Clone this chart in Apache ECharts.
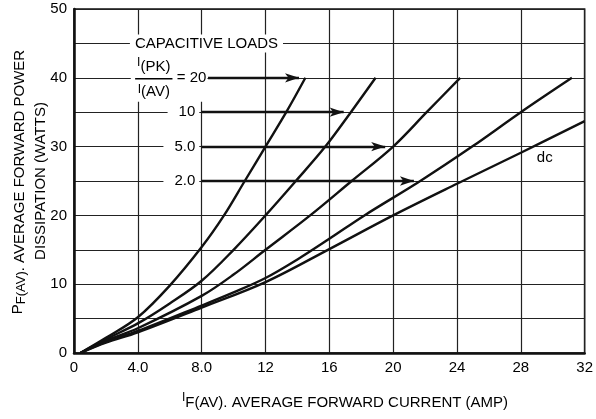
<!DOCTYPE html>
<html><head><meta charset="utf-8">
<script src="https://cdn.jsdelivr.net/npm/echarts@6/dist/echarts.min.js"></script>
<style>html,body{margin:0;padding:0;background:#fff}#c{width:596px;height:419px}</style>
</head><body><div id="c"></div>
<script>
// ---- data ----
const xTicks = [0, 4, 8, 12, 16, 20, 24, 28, 32];
const xTickLabels = ['0', '4.0', '8.0', '12', '16', '20', '24', '28', '32'];
const yTickLabels = ['0', '10', '20', '30', '40', '50'];
const ratioLabels = ['20', '10', '5.0', '2.0'];
const curve20 = [[0.4,0],[2,2.2],[4,5.2],[6,9.8],[8,15.4],[9.4,20],[10.7,25],[12,30],[13.3,35],[14.5,40]];
const curve10 = [[0.4,0],[2,2.0],[4,4.3],[6,7.2],[8,10.5],[10,15],[12,20],[13.9,25],[15.75,30],[17.35,35],[18.9,40]];
const curve5  = [[0.4,0],[2,1.8],[4,3.6],[8,8.3],[10,11.4],[12,15],[14.8,20],[17.4,25],[20,30],[22.1,35],[24.2,40]];
const curve2  = [[0.4,0],[2,1.6],[4,3.2],[8,6.9],[10,8.8],[12,10.9],[14,13.6],[16,16.6],[18.2,20],[21.7,25],[24.95,30],[28,35],[31.2,40]];
const curveDC = [[0.4,0],[2,1.5],[4,3.0],[8,6.6],[12,10.3],[16,15.1],[20,20],[24,24.6],[28,29.1],[32,33.7]];
const curves = [curve20, curve10, curve5, curve2, curveDC];
const arrowLevels = [40, 35, 30, 25];      // P values where the ratio arrows run
const arrowFrom = [8.4, 8.0, 8.0, 8.0];    // I values where the arrows begin
const arrowTo = [14.5, 17.3, 19.9, 21.7];  // I values where they meet their curve

const FONT = '"Liberation Sans", Arial, sans-serif';
const INK = '#000';
const chart = echarts.init(document.getElementById('c'));

const series = curves.map((d, i) => ({
  type: 'line', data: d, smooth: 0.35, symbol: 'none',
  lineStyle: {color: '#111', width: 2.4}, z: 5, silent: true,
  markLine: i < 4 ? {
    silent: true, symbol: ['none', 'arrow'], symbolSize: [7, 14],
    label: {show: false}, lineStyle: {color: '#111', width: 2.4, type: 'solid'},
    data: [[{coord: [arrowFrom[i], arrowLevels[i]]}, {coord: [arrowTo[i] - 0.4, arrowLevels[i]]}]]
  } : undefined
}));

chart.setOption({
  animation: false,
  backgroundColor: '#fff',
  grid: {left: 74, right: 7, top: 9, bottom: 66, show: true, borderColor: '#111', borderWidth: 1.5},
  xAxis: {
    type: 'value', min: 0, max: 32, interval: 4,
    axisLine: {show: true, lineStyle: {color: '#111', width: 2.5}},
    axisTick: {show: false},
    splitLine: {show: true, lineStyle: {color: '#222', width: 1.2}},
    axisLabel: {formatter: v => xTickLabels[xTicks.indexOf(v)], fontSize: 15, color: INK, margin: 7, fontFamily: FONT}
  },
  yAxis: {
    type: 'value', min: 0, max: 50, interval: 5,
    axisLine: {show: true, lineStyle: {color: '#111', width: 2.5}},
    axisTick: {show: false},
    splitLine: {show: true, lineStyle: {color: '#222', width: 1.2}},
    axisLabel: {formatter: v => (v % 10 === 0 ? yTickLabels[v / 10] : ''), fontSize: 15, color: INK, margin: 7, fontFamily: FONT}
  },
  series: series
});

// ---- annotations ----
const ctx = document.createElement('canvas').getContext('2d');
function tw(t, size) { ctx.font = size + 'px ' + FONT; return ctx.measureText(t).width; }
function px(x, y) { return chart.convertToPixel({gridIndex: 0}, [x, y]); }
function txt(t, x, y, size, align, extra) {
  return Object.assign({type: 'text', x: x, y: y, z: 110,
    style: {text: t, font: size + 'px ' + FONT, fill: INK, textAlign: align || 'left', textVerticalAlign: 'middle'}}, extra || {});
}
function rect(x, y, w, h) {
  return {type: 'rect', z: 105, shape: {x: x, y: y, width: w, height: h}, style: {fill: '#fff'}};
}
// parts: [{t, size, dy}] laid out left to right and centred on (cx, cy)
function group(parts, cx, cy, rot) {
  const total = parts.reduce((s, p) => s + tw(p.t, p.size), 0);
  let x = -total / 2;
  const children = [];
  parts.forEach(p => { children.push(txt(p.t, x, p.dy || 0, p.size, 'left')); x += tw(p.t, p.size); });
  return {type: 'group', x: cx, y: cy, rotation: rot || 0, z: 110, children: children};
}

const g = [];
// CAPACITIVE LOADS on the 45 line
const capP = px(8.3, 45);
const capW = tw('CAPACITIVE LOADS', 15);
g.push(rect(capP[0] - capW / 2 - 5, capP[1] - 9, capW + 10, 18));
g.push(txt('CAPACITIVE LOADS', capP[0], capP[1], 15, 'center'));

// fraction  I(PK) / I(AV) = 20
const fr = px(5.0, 40);
const eqP = px(8.3, 40);
g.push(rect(fr[0] - 23, fr[1] - 26, eqP[0] - fr[0] + 24, 50));
const fw = tw('(PK)', 15) + tw('I', 12);
g.push({type: 'line', z: 110, shape: {x1: fr[0] - fw / 2 - 2, y1: fr[1] + 1, x2: fr[0] + fw / 2 + 2, y2: fr[1] + 1}, style: {stroke: INK, lineWidth: 1.5}});
g.push(group([{t: 'I', size: 12, dy: -4}, {t: '(PK)', size: 15, dy: 0}], fr[0], fr[1] - 11));
g.push(group([{t: 'I', size: 12, dy: -2}, {t: '(AV)', size: 15, dy: 0}], fr[0], fr[1] + 14));
g.push(txt('= ' + ratioLabels[0], eqP[0], fr[1], 15, 'right'));

// other ratio labels
for (let i = 1; i < 4; i++) {
  const p = px(7.6, arrowLevels[i]);
  const w = tw(ratioLabels[i], 15);
  g.push(rect(p[0] - w - 11, p[1] - 8, w + 15, 16));
  g.push(txt(ratioLabels[i], p[0], p[1], 15, 'right'));
}
// dc label
const dcP = px(29.5, 28.4);
g.push(txt('dc', dcP[0], dcP[1], 15, 'center'));

// axis titles
g.push(group([{t: 'P', size: 15, dy: -2}, {t: 'F(AV)', size: 13, dy: 1}, {t: '. AVERAGE FORWARD POWER', size: 15, dy: 0}], 20, 182, Math.PI / 2));
g.push(group([{t: 'DISSIPATION (WATTS)', size: 15, dy: 0}], 41, 181, Math.PI / 2));
g.push(group([{t: 'I', size: 12, dy: -5}, {t: 'F(AV). AVERAGE FORWARD CURRENT (AMP)', size: 15, dy: 0}], 345, 403, 0));

chart.setOption({graphic: {elements: g}});
</script>
</body></html>
